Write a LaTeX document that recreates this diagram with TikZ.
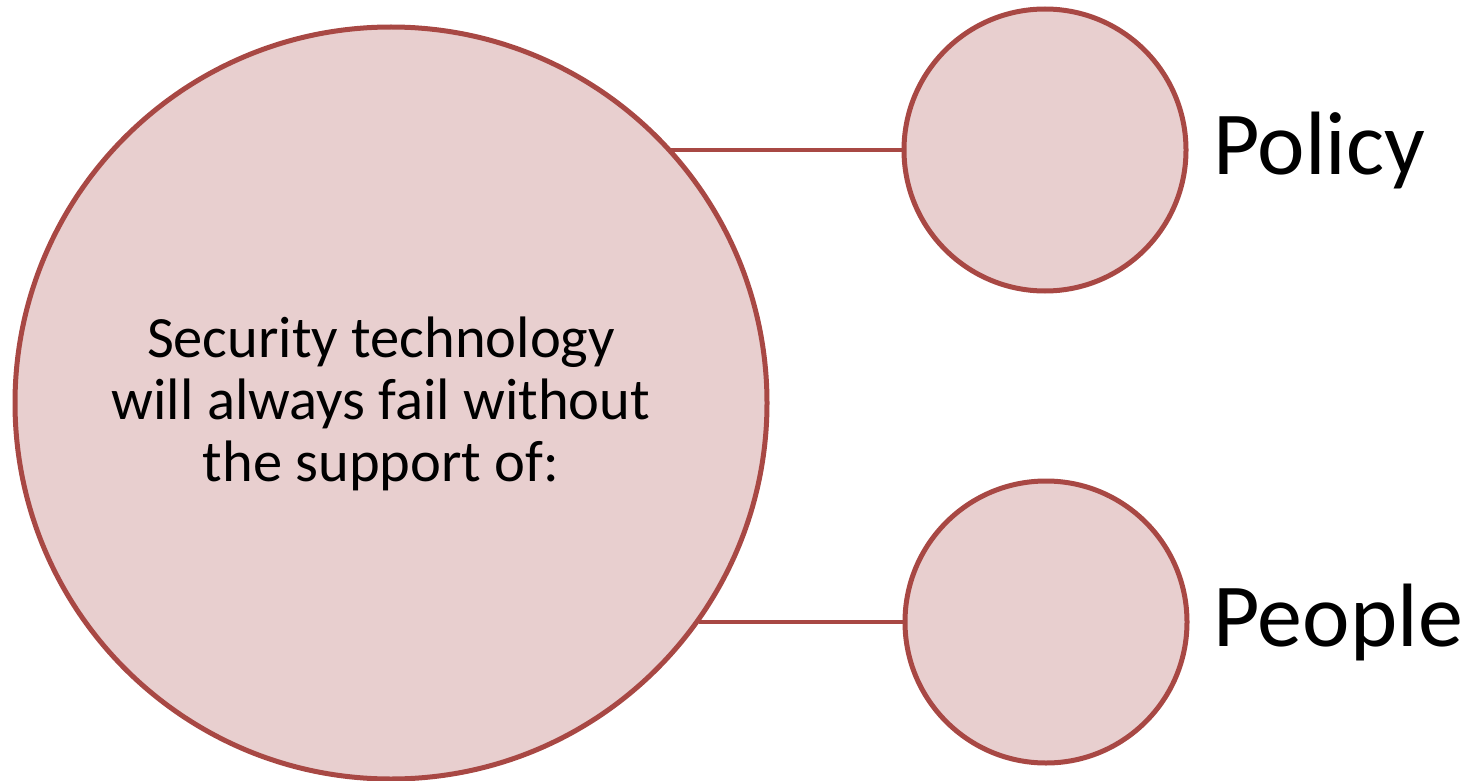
\documentclass[tikz,border=0pt]{standalone}
\usepackage{fontspec}
\usetikzlibrary{calc}
\setmainfont{Carlito}
\definecolor{ringred}{RGB}{168,72,68}
\definecolor{ringfill}{RGB}{232,207,207}
\begin{document}
\begin{tikzpicture}[x=1pt,y=-1pt,
  ring/.style={circle,draw=ringred,fill=ringfill,line width=5pt,inner sep=0pt,outer sep=0pt},
  link/.style={draw=ringred,line width=4.5pt},
  label/.style={font=\fontsize{90}{108}\selectfont,inner sep=0pt,anchor=base west}]
\useasboundingbox (0,0) rectangle (1472,781);
\node[ring,minimum size=752pt] (big) at (391,403) {};
\node[ring,minimum size=282pt] (s1) at (1045,150) {};
\node[ring,minimum size=282pt] (s2) at (1046,622) {};
\node[align=center,font=\fontsize{58.5}{62}\selectfont,inner sep=0pt] (txt) at (381,404)
  {Security technology\\will always fail without\\the support of:};
\node[label] (policy) at (1213,174) {Policy};
\node[label] (people) at (1213,646) {People};
\draw[link] (s1.west) -- (s1.west -| big.42.3);
\draw[link] (s2.west) -- (s2.west -| big.-35.6);
\end{tikzpicture}
\end{document}
